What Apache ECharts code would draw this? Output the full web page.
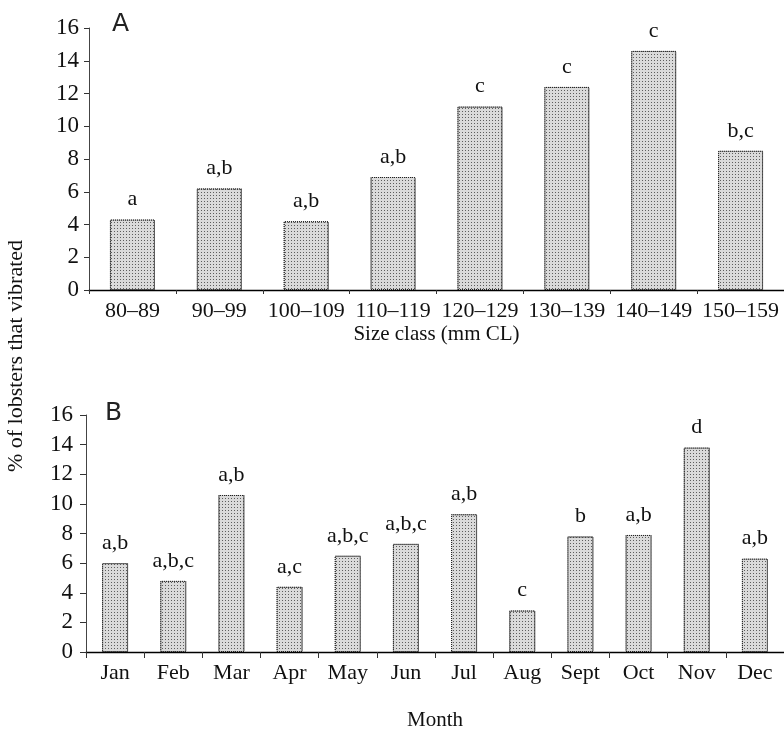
<!DOCTYPE html>
<html>
<head>
<meta charset="utf-8">
<script src="https://cdn.jsdelivr.net/npm/echarts@6/dist/echarts.min.js"></script>
<style>
  html, body { margin: 0; padding: 0; background: #fff; }
  #chart { width: 784px; height: 737px; }
</style>
</head>
<body>
<div id="chart"></div>
<script>
// Panel A: vibration by size class
const sizeClasses = ['80–89', '90–99', '100–109', '110–119', '120–129', '130–139', '140–149', '150–159'];
const sizePct = [4.3, 6.2, 4.2, 6.9, 11.2, 12.4, 14.6, 8.5];
const sizeLetters = ['a', 'a,b', 'a,b', 'a,b', 'c', 'c', 'c', 'b,c'];

// Panel B: vibration by month
const months = ['Jan', 'Feb', 'Mar', 'Apr', 'May', 'Jun', 'Jul', 'Aug', 'Sept', 'Oct', 'Nov', 'Dec'];
const monthPct = [6.0, 4.8, 10.6, 4.4, 6.5, 7.3, 9.3, 2.8, 7.8, 7.9, 13.8, 6.3];
const monthLetters = ['a,b', 'a,b,c', 'a,b', 'a,c', 'a,b,c', 'a,b,c', 'a,b', 'c', 'b', 'a,b', 'd', 'a,b'];

const SERIF = '"Liberation Serif", "DejaVu Serif", serif';
const INK = '#111';

const stipple = {
  color: '#dadada',
  borderColor: '#222',
  borderWidth: 1,
  borderType: 'dotted',
  decal: {
    symbol: 'rect',
    symbolSize: 1,
    dashArrayX: [1, 2],
    dashArrayY: [1, 2],
    color: 'rgba(40,40,40,0.7)'
  }
};

function valueAxis(gridIndex, tickLen, margin) {
  return {
    type: 'value',
    gridIndex: gridIndex,
    min: 0,
    max: 16,
    interval: 2,
    splitLine: { show: false },
    axisLine: { show: true, lineStyle: { color: '#444', width: 1 } },
    axisTick: { show: true, length: tickLen, lineStyle: { color: '#333' } },
    axisLabel: { color: INK, fontFamily: SERIF, fontSize: 23, margin: margin }
  };
}

function categoryAxis(gridIndex, cats, name, nameGap, tickLen) {
  return {
    type: 'category',
    gridIndex: gridIndex,
    data: cats,
    name: name,
    nameLocation: 'middle',
    nameGap: nameGap,
    nameTextStyle: { color: INK, fontFamily: SERIF, fontSize: 21 },
    axisLine: { show: true, lineStyle: { color: '#000', width: 1.3 } },
    axisTick: { show: true, length: tickLen, lineStyle: { color: '#333' } },
    axisLabel: { color: INK, fontFamily: SERIF, fontSize: 22, margin: 10, interval: 0 }
  };
}

function letterLabel(letters) {
  return {
    show: true,
    position: 'top',
    distance: 9,
    color: INK,
    fontFamily: SERIF,
    fontSize: 22,
    formatter: p => letters[p.dataIndex]
  };
}

const chart = echarts.init(document.getElementById('chart'), null, { renderer: 'canvas' });

chart.setOption({
  backgroundColor: '#fff',
  animation: false,
  grid: [
    { left: 89, top: 28, width: 697, height: 262 },
    { left: 86, top: 415, width: 698, height: 237 }
  ],
  xAxis: [
    categoryAxis(0, sizeClasses, 'Size class (mm CL)', 34, 4),
    categoryAxis(1, months, 'Month', 58, 6)
  ],
  yAxis: [valueAxis(0, 5, 10), valueAxis(1, 6, 13)],
  series: [
    {
      type: 'bar',
      xAxisIndex: 0,
      yAxisIndex: 0,
      data: sizePct,
      barWidth: 45,
      itemStyle: stipple,
      label: letterLabel(sizeLetters)
    },
    {
      type: 'bar',
      xAxisIndex: 1,
      yAxisIndex: 1,
      data: monthPct,
      barWidth: 26,
      itemStyle: stipple,
      label: letterLabel(monthLetters)
    }
  ],
  graphic: [
    {
      type: 'text',
      left: 112,
      top: 12,
      style: { text: 'A', font: '25px "DejaVu Sans", sans-serif', fill: '#222' }
    },
    {
      type: 'text',
      left: 105,
      top: 401,
      style: { text: 'B', font: '25px "DejaVu Sans", sans-serif', fill: '#222' }
    },
    {
      type: 'text',
      x: 16,
      y: 356,
      rotation: Math.PI / 2,
      style: {
        text: '% of lobsters that vibrated',
        font: '22px "Liberation Serif", serif',
        fill: INK,
        textAlign: 'center',
        textVerticalAlign: 'middle'
      }
    }
  ]
});
</script>
</body>
</html>
